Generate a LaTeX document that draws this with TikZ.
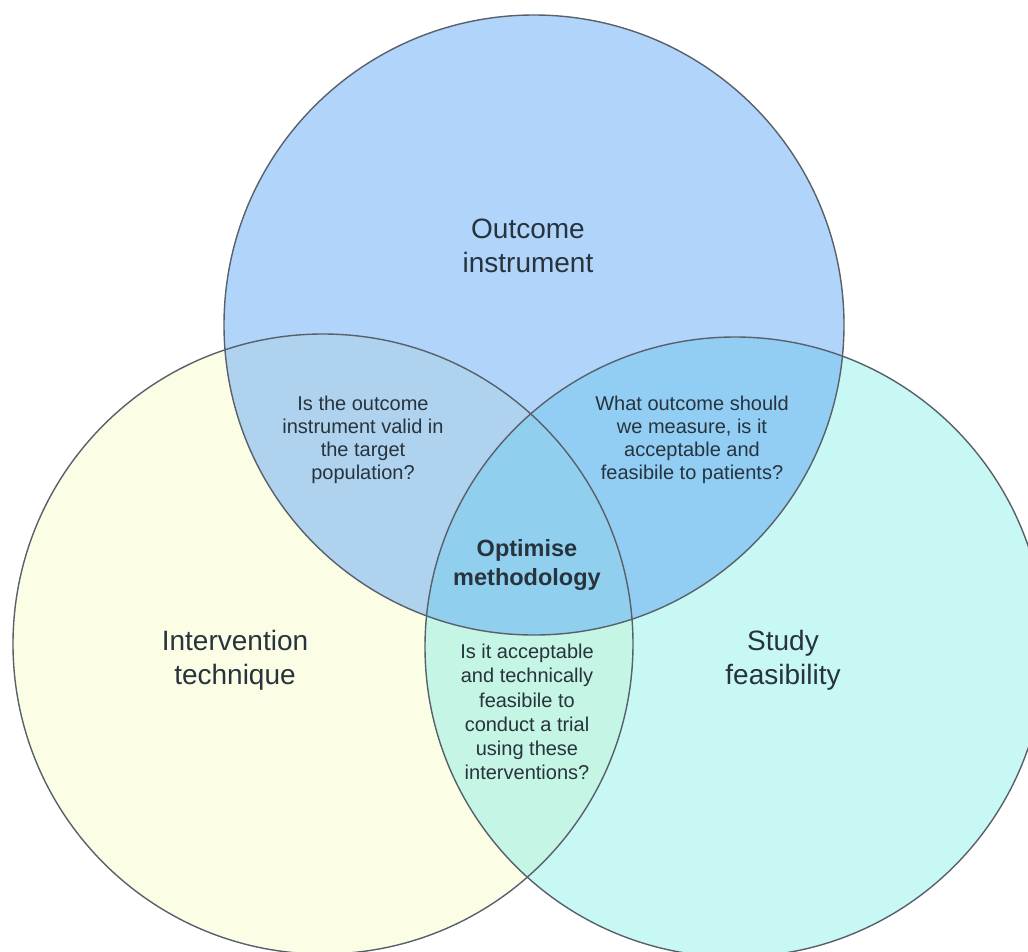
\documentclass[tikz,border=0pt]{standalone}
\usepackage{fontspec}
\setmainfont{Liberation Sans}
\usetikzlibrary{positioning}

\definecolor{outcomefill}{HTML}{B1D4FA}
\definecolor{intervfill}{HTML}{FBFEE5}
\definecolor{feasfill}{HTML}{C8F8F3}
\definecolor{oifill}{HTML}{AFD3EE}
\definecolor{offill}{HTML}{92CEF4}
\definecolor{iffill}{HTML}{C5F5E4}
\definecolor{corefill}{HTML}{90CFEE}
\definecolor{edgegray}{HTML}{58606A}
\definecolor{labeltext}{HTML}{27333D}

\newcommand{\vennr}{310pt}

\begin{document}
\begin{tikzpicture}[
    x=1pt, y=-1pt,
    setline/.style={line width=1.4pt, draw=edgegray},
    biglabel/.style={align=center, text=labeltext, inner sep=0pt, font=\fontsize{28}{34}\selectfont},
    question/.style={align=center, text=labeltext, inner sep=0pt, font=\fontsize{20}{23}\selectfont},
    core/.style={align=center, text=labeltext, inner sep=0pt, font=\fontsize{23.5}{29}\selectfont\bfseries}
]

\clip (0,0) rectangle (1028,951);

% Set centres
\coordinate (O) at (534,325);
\coordinate (I) at (323,644);
\coordinate (F) at (735,647);

% Base fills
\fill[outcomefill] (O) circle[radius=\vennr];
\fill[intervfill] (I) circle[radius=\vennr];
\fill[feasfill] (F) circle[radius=\vennr];

% Pairwise overlaps
\begin{scope}
  \clip (O) circle[radius=\vennr];
  \fill[oifill] (I) circle[radius=\vennr];
  \fill[offill] (F) circle[radius=\vennr];
\end{scope}
\begin{scope}
  \clip (I) circle[radius=\vennr];
  \fill[iffill] (F) circle[radius=\vennr];
\end{scope}

% Centre overlap
\begin{scope}
  \clip (O) circle[radius=\vennr];
  \clip (I) circle[radius=\vennr];
  \fill[corefill] (F) circle[radius=\vennr];
\end{scope}

% Outlines
\draw[setline] (O) circle[radius=\vennr];
\draw[setline] (I) circle[radius=\vennr];
\draw[setline] (F) circle[radius=\vennr];

% Set labels
\node[biglabel] (outcome) at (528,246) {Outcome\\instrument};
\node[biglabel] (interv) at (235,660) {Intervention\\technique};
\node[biglabel] (feas) at (783,660) {Study\\feasibility};

% Overlap labels
\node[question] (valid) at (363,440) {Is the outcome\\instrument valid in\\the target\\population?};
\node[question] (measure) at (692,440) {What outcome should\\we measure, is it\\acceptable and\\feasibile to patients?};
\node[core] (optimise) at (527,565) {Optimise\\methodology};
\node[question, font=\fontsize{20}{24.2}\selectfont] (trial) at (527,712) {Is it acceptable\\and technically\\feasibile to\\conduct a trial\\using these\\interventions?};

\end{tikzpicture}
\end{document}
